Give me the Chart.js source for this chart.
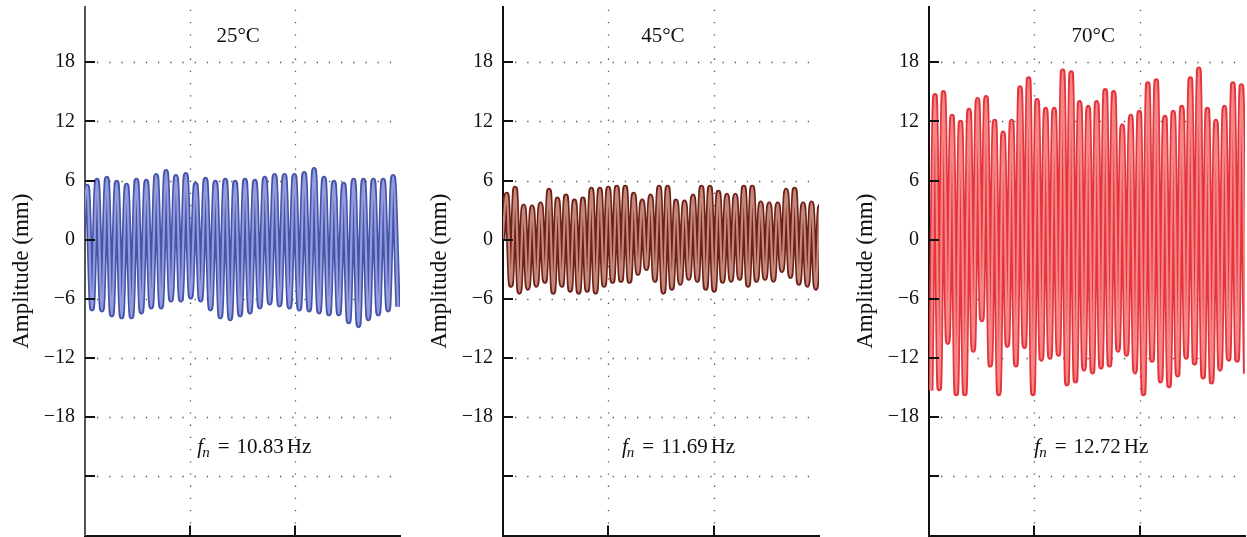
<!DOCTYPE html>
<html>
<head>
<meta charset="utf-8">
<script src="https://cdn.jsdelivr.net/npm/chart.js@4.4.1/dist/chart.umd.min.js"></script>
<style>
  body { margin: 0; background: #fff; width: 1247px; height: 537px; overflow: hidden; position: relative; }
  canvas { position: absolute; top: 0; }
</style>
</head>
<body>
<canvas id="c25" width="402" height="537" style="left:0px"></canvas>
<canvas id="c45" width="403" height="537" style="left:418px"></canvas>
<canvas id="c70" width="403" height="537" style="left:844px"></canvas>
<script>
// panel labels
const temps = ['25°C', '45°C', '70°C'];
const freqs = ['10.83', '11.69', '12.72'];

// axis ticks (the -24 tick carries no label)
const yTicks = [18, 12, 6, 0, -6, -12, -18, -24];
const xTicks = [1, 2];

// timing of the traces: first crest and half period, plus value before the first crest
const firstCrest = [0.02, 0.035, 0.057];
const halfPeriod = [0.047, 0.0402, 0.0404];
const startValue = [0, 0, -15.3];

// crest / trough amplitudes (mm)
const crests25 = [5.4, 6.0, 6.2, 5.8, 5.5, 6.0, 5.9, 6.5, 6.9, 6.4, 6.6, 5.6, 6.1, 5.8, 6.0, 5.8,
                  6.0, 5.9, 6.2, 6.5, 6.5, 6.5, 6.7, 7.1, 6.2, 5.8, 5.6, 6.0, 6.0, 6.0, 6.0, 6.4];
const troughs25 = [-7.0, -7.1, -7.6, -7.8, -7.8, -7.3, -6.8, -6.8, -6.1, -6.1, -5.8, -6.1, -7.0, -7.8, -8.0, -7.6,
                   -7.3, -6.8, -6.4, -6.6, -6.8, -7.0, -7.1, -7.3, -7.5, -7.5, -8.3, -8.7, -8.0, -7.5, -7.1, -6.8];

const crests45 = [4.6, 5.2, 3.4, 3.3, 3.6, 5.0, 4.1, 4.4, 3.9, 4.1, 5.1, 5.1, 5.2, 5.3, 5.3, 4.6, 3.9, 4.4, 5.3,
                  5.3, 3.9, 3.8, 4.4, 5.3, 5.3, 4.8, 4.5, 4.5, 5.3, 5.3, 3.7, 3.6, 3.6, 5.0, 5.1, 3.6, 3.7, 3.4];
const troughs45 = [-4.6, -5.3, -4.9, -4.6, -4.2, -5.3, -4.6, -5.1, -5.3, -5.1, -5.3, -4.6, -4.2, -4.1, -4.2, -3.4, -2.9, -4.1, -5.3,
                   -4.9, -4.4, -3.9, -4.1, -4.9, -5.1, -4.2, -4.1, -3.9, -4.6, -4.1, -3.9, -4.1, -3.1, -3.7, -4.4, -4.6, -4.9, -4.1];

const crests70 = [14.6, 14.9, 12.5, 11.9, 13.1, 14.2, 14.4, 12.0, 10.8, 12.0, 15.4, 16.3, 14.1, 13.2, 13.2, 17.1, 16.9, 13.9, 13.4,
                  13.9, 15.1, 14.9, 11.5, 12.5, 12.9, 15.8, 16.1, 12.4, 12.9, 13.4, 16.3, 17.3, 13.2, 12.0, 13.4, 15.8, 15.6];
const troughs70 = [-15.1, -10.4, -15.6, -15.6, -11.2, -8.1, -12.7, -15.6, -10.7, -12.7, -10.8, -15.6, -12.1, -11.9, -11.6, -14.6, -14.3, -13.1, -13.4,
                   -12.9, -12.7, -11.2, -11.6, -13.4, -15.6, -12.2, -14.3, -14.8, -13.7, -11.9, -12.5, -13.9, -14.4, -13.1, -12.1, -12.2, -13.6];

const SERIF = '"Liberation Serif", "DejaVu Serif", serif';

function buildTrace(i, crests, troughs) {
  let pts = [{x: firstCrest[i] - halfPeriod[i], y: startValue[i]}];
  crests.forEach((c, k) => {
    let t = firstCrest[i] + 2 * k * halfPeriod[i];
    pts.push({x: t, y: c});
    if (k < troughs.length) pts.push({x: t + halfPeriod[i], y: troughs[k]});
  });
  return pts;
}

// grid dots, inward tick marks and panel texts
const panelDeco = {
  id: 'panelDeco',
  beforeDatasetsDraw(chart, args, opts) {
    const {ctx, chartArea: a, scales: {x, y}} = chart;
    ctx.save();
    ctx.strokeStyle = '#555';
    ctx.lineWidth = 1.3;
    ctx.setLineDash([1.3, 10.9]);
    yTicks.forEach(v => {
      const py = Math.round(y.getPixelForValue(v)) + 0.5;
      ctx.beginPath(); ctx.moveTo(a.left + 12, py); ctx.lineTo(a.right, py); ctx.stroke();
    });
    xTicks.forEach(v => {
      const px = Math.round(x.getPixelForValue(v)) + 0.5;
      ctx.beginPath(); ctx.moveTo(px, a.bottom - 12); ctx.lineTo(px, a.top); ctx.stroke();
    });
    ctx.restore();
  },
  afterDraw(chart, args, opts) {
    const {ctx, chartArea: a, scales: {x, y}} = chart;
    ctx.save();
    // tick marks
    ctx.strokeStyle = '#111';
    ctx.lineWidth = 2;
    yTicks.forEach(v => {
      const py = Math.round(y.getPixelForValue(v));
      ctx.beginPath(); ctx.moveTo(a.left, py); ctx.lineTo(a.left + 10, py); ctx.stroke();
    });
    xTicks.forEach(v => {
      const px = Math.round(x.getPixelForValue(v));
      ctx.beginPath(); ctx.moveTo(px, a.bottom); ctx.lineTo(px, a.bottom - 10); ctx.stroke();
    });

    ctx.fillStyle = '#111';
    // temperature title
    ctx.font = '21px ' + SERIF;
    ctx.textAlign = 'center';
    ctx.textBaseline = 'alphabetic';
    ctx.fillText(opts.title, a.left + opts.titleFrac * a.width, 42);

    // f_n = ... Hz
    ctx.textAlign = 'left';
    let x0 = x.getPixelForValue(opts.fnAt);
    const base = 453;
    ctx.font = 'italic 21px ' + SERIF;
    ctx.fillText('f', x0, base);
    x0 += ctx.measureText('f').width;
    ctx.font = 'italic 15px ' + SERIF;
    ctx.fillText('n', x0 - 1, base + 4);
    x0 += ctx.measureText('n').width + 7;
    ctx.font = '21px ' + SERIF;
    ctx.fillText('=', x0, base);
    x0 += ctx.measureText('=').width + 7;
    ctx.fillText(opts.freq, x0, base);
    x0 += ctx.measureText(opts.freq).width + 3;
    ctx.fillText('Hz', x0, base);

    // y axis title
    ctx.translate(a.left - 63, (a.top + a.bottom) / 2);
    ctx.rotate(-Math.PI / 2);
    ctx.textAlign = 'center';
    ctx.textBaseline = 'middle';
    ctx.font = '23px ' + SERIF;
    ctx.fillText('Amplitude (mm)', 0, 0);
    ctx.restore();
  }
};

function makePanel(id, i, crests, troughs, dark, light, axisColor, titleFrac, fnAt) {
  const pts = buildTrace(i, crests, troughs);
  let ctx = document.getElementById(id).getContext('2d');
  new Chart(ctx, {
    type: 'line',
    data: {
      datasets: [
        { data: pts, borderColor: light, borderWidth: 2.2, pointRadius: 0,
          cubicInterpolationMode: 'monotone', order: 0 },
        { data: pts, borderColor: dark, borderWidth: 5.4, pointRadius: 0,
          cubicInterpolationMode: 'monotone', order: 1 }
      ]
    },
    options: {
      responsive: false,
      animation: false,
      layout: { padding: { top: 7, right: 2, left: 0, bottom: 0 } },
      plugins: {
        legend: { display: false },
        tooltip: { enabled: false },
        panelDeco: { title: temps[i], freq: freqs[i], titleFrac: titleFrac, fnAt: fnAt }
      },
      scales: {
        x: {
          type: 'linear', min: 0, max: 3,
          ticks: { display: false },
          grid: { display: false, drawTicks: false },
          border: { display: true, color: '#111', width: 2 },
          afterFit: s => { s.height = 1.5; s.paddingLeft = 0; s.paddingRight = 0; }
        },
        y: {
          min: -30, max: 23.6,
          afterBuildTicks: s => { s.ticks = yTicks.map(v => ({value: v})); },
          ticks: {
            padding: 10,
            color: '#111',
            font: { family: SERIF, size: 20 },
            callback: v => v === -24 ? '' : (v < 0 ? '\u2212' + Math.abs(v) : String(v))
          },
          grid: { display: false, drawTicks: false },
          border: { display: true, color: axisColor, width: 2 },
          afterFit: s => { s.width = 85; s.paddingTop = 0; s.paddingBottom = 0; }
        }
      }
    },
    plugins: [panelDeco]
  });
}

makePanel('c25', 0, crests25, troughs25, '#4653aa', '#939ddb', '#555', 0.486, 1.07);
makePanel('c45', 1, crests45, troughs45, '#6e2118', '#c5897a', '#111', 0.506, 1.13);
makePanel('c70', 2, crests70, troughs70, '#e5323b', '#f48686', '#111', 0.52, 1.0);
</script>
</body>
</html>
